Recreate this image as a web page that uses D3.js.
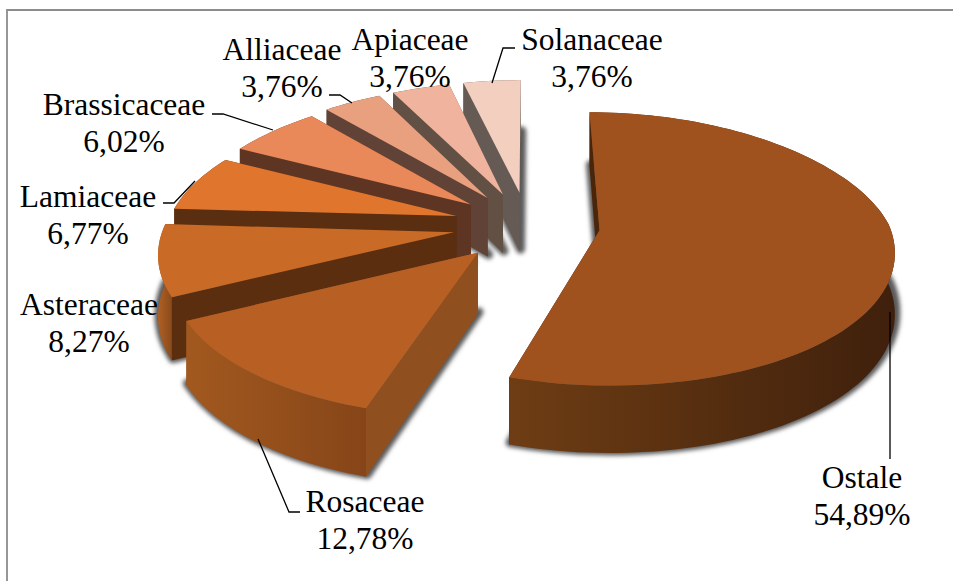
<!DOCTYPE html>
<html>
<head>
<meta charset="utf-8">
<title>Pie</title>
<script src="https://cdn.jsdelivr.net/npm/d3@7"></script>
<style>
  body { margin: 0; background: #fff; }
  svg { display: block; }
  text { font-family: "Liberation Serif", serif; font-size: 31.5px; fill: #000; text-anchor: middle; }
</style>
</head>
<body>
<div id="chart"></div>
<script>
var categories = ['Ostale', 'Rosaceae', 'Asteraceae', 'Lamiaceae', 'Brassicaceae', 'Alliaceae', 'Apiaceae', 'Solanaceae']
var shares = [54.89, 12.78, 8.27, 6.77, 6.02, 3.76, 3.76, 3.76]

var topColors = ['#A0521E', '#B86023', '#C96A26', '#E0762D', '#E98858', '#E9A07F', '#F0B39E', '#F3CFC0']
var sideColors = ['#4A2509', '#8F4F1E', '#5C2E10', '#5A2E11', '#5E3522', '#604236', '#625044', '#665B54']
var rimLeft = ['#6E3D14', '#A2591F', '#B06023', '#5A2E11', '#5E3522', '#604236', '#625044', '#665B54']
var rimRight = ['#3F200C', '#864518', '#8A4A1C', '#5A2E11', '#5E3522', '#604236', '#625044', '#665B54']
var explodes = [72, 75, 75, 75, 75, 75, 75, 75]
var radii = [290, 295, 290, 289, 292, 295, 295, 295]

// label placement, [centre x, first baseline], and leader lines
var labelPos = [[862, 488], [365, 512], [89, 315], [88, 207], [124, 115], [282, 60], [410, 50], [592, 50]]
var leaders = [
  [[890, 312], [890, 459]],
  [[300, 512], [289, 512], [258, 439]],
  [],
  [[163, 203], [174, 203], [195, 181]],
  [[212, 114], [223, 114], [273, 130]],
  [[329, 95], [340, 95], [352, 103]],
  [],
  [[515, 48], [503, 48], [492, 83]]
]

var width = 953, height = 581
var cx = 528, cy = 225
var R = 295, depth = 60
var tiltBack = 0.445, tiltFront = 0.475, persp = 0.1075

var svg = d3.select('#chart').append('svg')
  .attr('width', width)
  .attr('height', height)

var defs = svg.append('defs')
defs.append('filter').attr('id', 'blur')
  .attr('x', '-10%').attr('y', '-10%').attr('width', '120%').attr('height', '120%')
  .append('feGaussianBlur').attr('stdDeviation', 2.2)

// chart frame, only top and left are inside the picture
svg.append('path')
  .attr('d', d3.line()([[7, height], [7, 10], [width, 10]]))
  .attr('fill', 'none')
  .attr('stroke', '#8c8c8c')
  .attr('stroke-width', 1.8)

var pie = d3.pie().sort(null).value(function(d) { return d })
var slices = pie(shares)

var line = d3.line()

function project(X, Y, z) {
  var s = 1 / (1 + persp * Y / R)
  var fx = Y > 0 ? 1 - 0.05 * Y / R : 1 - 0.026 * Y / R
  var tilt = Y > 0 ? tiltBack : tiltFront
  return [cx + s * fx * X, cy - tilt * s * Y + z * s * depth]
}

// point on slice d at angle a, r is 0 at the apex and 1 on the rim
function point(d, a, r, z) {
  var m = (d.startAngle + d.endAngle) / 2
  var e = explodes[d.index]
  var X = e * Math.sin(m) + r * radii[d.index] * Math.sin(a)
  var Y = e * Math.cos(m) + r * radii[d.index] * Math.cos(a)
  return project(X, Y, z)
}

function rim(d, z) {
  var n = Math.max(4, Math.ceil((d.endAngle - d.startAngle) / 0.03))
  return d3.range(n + 1).map(function(j) {
    return point(d, d.startAngle + (d.endAngle - d.startAngle) * j / n, 1, z)
  })
}

function face(d, z) {
  return line([point(d, d.startAngle, 0, z)].concat(rim(d, z))) + 'Z'
}

function radialWall(d, a) {
  return line([point(d, a, 0, 0), point(d, a, 1, 0), point(d, a, 1, 1), point(d, a, 0, 1)]) + 'Z'
}

function rimWall(d) {
  return line(rim(d, 0).concat(rim(d, 1).reverse())) + 'Z'
}

// soft shadow round the bottom faces
svg.append('g')
  .attr('filter', 'url(#blur)')
  .attr('transform', 'translate(1,-2)')
  .selectAll('path')
  .data(slices)
  .enter().append('path')
    .attr('d', function(d) { return face(d, 1) })
    .attr('fill', '#5a5a5a')
    .attr('stroke', '#5a5a5a')
    .attr('stroke-width', 9)
    .attr('stroke-linejoin', 'round')

// back slices first, Ostale does not overlap the others
var order = d3.range(slices.length).reverse()

order.forEach(function(i) {
  var d = slices[i]
  var g = svg.append('g').attr('class', 'slice')
  var pts = rim(d, 1)

  var grad = defs.append('linearGradient')
    .attr('id', 'rim' + i)
    .attr('gradientUnits', 'userSpaceOnUse')
    .attr('x1', d3.min(pts, function(p) { return p[0] }))
    .attr('x2', d3.max(pts, function(p) { return p[0] }))
    .attr('y1', 0).attr('y2', 0)
  grad.append('stop').attr('offset', 0).attr('stop-color', rimLeft[i])
  grad.append('stop').attr('offset', 1).attr('stop-color', rimRight[i])

  g.append('path').attr('d', radialWall(d, d.endAngle)).attr('fill', sideColors[i])
  g.append('path').attr('d', rimWall(d)).attr('fill', 'url(#rim' + i + ')')
  g.append('path').attr('d', radialWall(d, d.startAngle)).attr('fill', sideColors[i])
  g.append('path').attr('d', face(d, 0)).attr('fill', topColors[i])
})

// leader lines
svg.append('g')
  .selectAll('path')
  .data(leaders.filter(function(l) { return l.length }))
  .enter().append('path')
    .attr('d', function(d) { return line(d) })
    .attr('fill', 'none')
    .attr('stroke', '#000')
    .attr('stroke-width', 1.3)

// labels
var label = svg.append('g')
  .selectAll('text')
  .data(categories)
  .enter().append('text')
    .attr('x', function(d, i) { return labelPos[i][0] })
    .attr('y', function(d, i) { return labelPos[i][1] })

label.append('tspan')
  .text(function(d) { return d })

label.append('tspan')
  .attr('x', function(d, i) { return labelPos[i][0] })
  .attr('dy', 37)
  .text(function(d, i) { return shares[i].toFixed(2).replace('.', ',') + '%' })
</script>
</body>
</html>
